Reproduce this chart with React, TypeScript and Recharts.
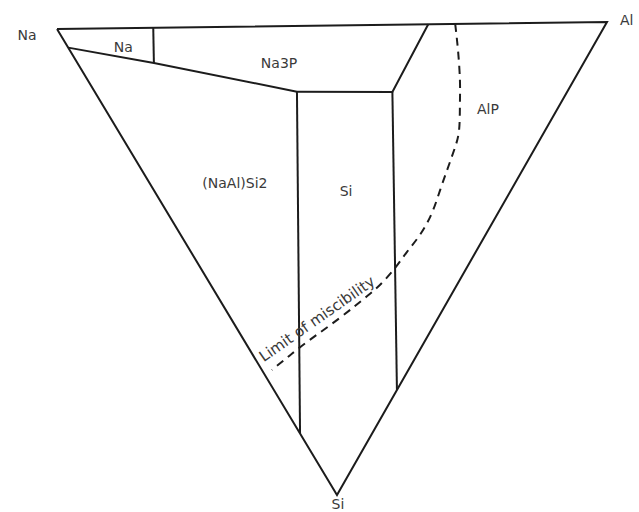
import { ScatterChart, Scatter, XAxis, YAxis } from 'recharts'

const W = 639
const H = 512
const INK = '#1c1c1c'
const TEXT = '#3a3a3a'
const FONT = '"DejaVu Sans", sans-serif'

// corner positions of the Na–Al–Si triangle, in plot units
const CORNER_NA = [57, 29]
const CORNER_AL = [607, 22]
const CORNER_SI = [337, 495]

// compositions are [Na, Al] fractions, Si is the remainder
const triangle = [[1, 0], [0, 1], [0, 0], [1, 0]]
const naFieldBase = [[0.96, 0], [0.787, 0.138], [0.495, 0.365]]
const naFieldSide = [[0.825, 0.175], [0.787, 0.138]]
const na3pFieldSide = [[0.495, 0.365], [0.32, 0.537], [0.325, 0.675]]
const naAlSi2Side = [[0.495, 0.365], [0.132, 0]]
const alpFieldSide = [[0.32, 0.537], [0, 0.222]]

const miscibilityNa = [0.276, 0.244, 0.209, 0.183, 0.158, 0.147, 0.139, 0.13, 0.121, 0.12, 0.126, 0.131, 0.141, 0.155, 0.18, 0.212, 0.232, 0.25]
const miscibilityAl = [0.724, 0.701, 0.672, 0.645, 0.616, 0.589, 0.555, 0.517, 0.477, 0.432, 0.39, 0.351, 0.305, 0.264, 0.197, 0.119, 0.067, 0.018]

const fieldNames = ['Na', 'Na3P', 'AlP', '(NaAl)Si2', 'Si']
const fieldNa = [0.86, 0.558, 0.127, 0.513, 0.301]
const fieldAl = [0.1, 0.364, 0.691, 0.154, 0.346]

const cornerNames = ['Na', 'Al', 'Si']
const cornerNa = [1, 0, 0]
const cornerAl = [0, 1, 0]

const toXY = (na: number, al: number) => {
  const si = 1 - na - al
  return {
    x: na * CORNER_NA[0] + al * CORNER_AL[0] + si * CORNER_SI[0],
    y: na * CORNER_NA[1] + al * CORNER_AL[1] + si * CORNER_SI[1],
  }
}

const path = (pts: number[][]) => pts.map(([na, al]) => toXY(na, al))

const boundaries = [triangle, naFieldBase, naFieldSide, na3pFieldSide, naAlSi2Side, alpFieldSide].map(path)
const miscibility = miscibilityNa.map((na, i) => toXY(na, miscibilityAl[i]))
const fieldLabels = fieldNames.map((text, i) => ({ ...toXY(fieldNa[i], fieldAl[i]), text }))
const cornerLabels = cornerNames.map((text, i) => ({ ...toXY(cornerNa[i], cornerAl[i]), text }))
const miscibilityLabel = [{ ...toXY(0.212, 0.157), text: 'Limit of miscibility' }]

const cornerOffset: Record<string, { dx: number; dy: number; anchor: 'start' | 'middle' }> = {
  Na: { dx: -30, dy: 6, anchor: 'middle' },
  Al: { dx: 13, dy: -2, anchor: 'start' },
  Si: { dx: 1, dy: 9, anchor: 'middle' },
}

const noMarker = () => <g />

export default function App() {
  return (
    <div style={{ position: 'absolute', left: 0, top: 0, width: W, height: H, background: '#fff' }}>
      <ScatterChart width={W} height={H} margin={{ top: 0, right: 0, bottom: 0, left: 0 }}>
        <XAxis type="number" dataKey="x" domain={[0, W]} hide />
        <YAxis type="number" dataKey="y" domain={[0, H]} reversed hide />

        {boundaries.map((pts, i) => (
          <Scatter
            key={i}
            data={pts}
            line={{ stroke: INK, strokeWidth: 2 }}
            shape={noMarker}
            isAnimationActive={false}
          />
        ))}

        <Scatter
          data={miscibility}
          line={{ stroke: INK, strokeWidth: 2, strokeDasharray: '8 6' }}
          lineJointType="natural"
          shape={noMarker}
          isAnimationActive={false}
        />

        <Scatter
          data={fieldLabels}
          isAnimationActive={false}
          shape={(p: any) => (
            <text x={p.cx} y={p.cy} textAnchor="middle" dominantBaseline="central"
              fontFamily={FONT} fontSize={14} fill={TEXT}>
              {p.payload.text}
            </text>
          )}
        />

        <Scatter
          data={cornerLabels}
          isAnimationActive={false}
          shape={(p: any) => {
            const o = cornerOffset[p.payload.text]
            return (
              <text x={p.cx + o.dx} y={p.cy + o.dy} textAnchor={o.anchor} dominantBaseline="central"
                fontFamily={FONT} fontSize={14} fill={TEXT}>
                {p.payload.text}
              </text>
            )
          }}
        />

        {/* label sits just above the dashed curve */}
        <Scatter
          data={miscibilityLabel}
          isAnimationActive={false}
          shape={(p: any) => (
            <text x={p.cx - 3} y={p.cy - 3} textAnchor="middle" dominantBaseline="central"
              transform={`rotate(-35 ${p.cx - 3} ${p.cy - 3})`}
              fontFamily={FONT} fontSize={15} fill={TEXT}>
              {p.payload.text}
            </text>
          )}
        />
      </ScatterChart>
    </div>
  )
}
